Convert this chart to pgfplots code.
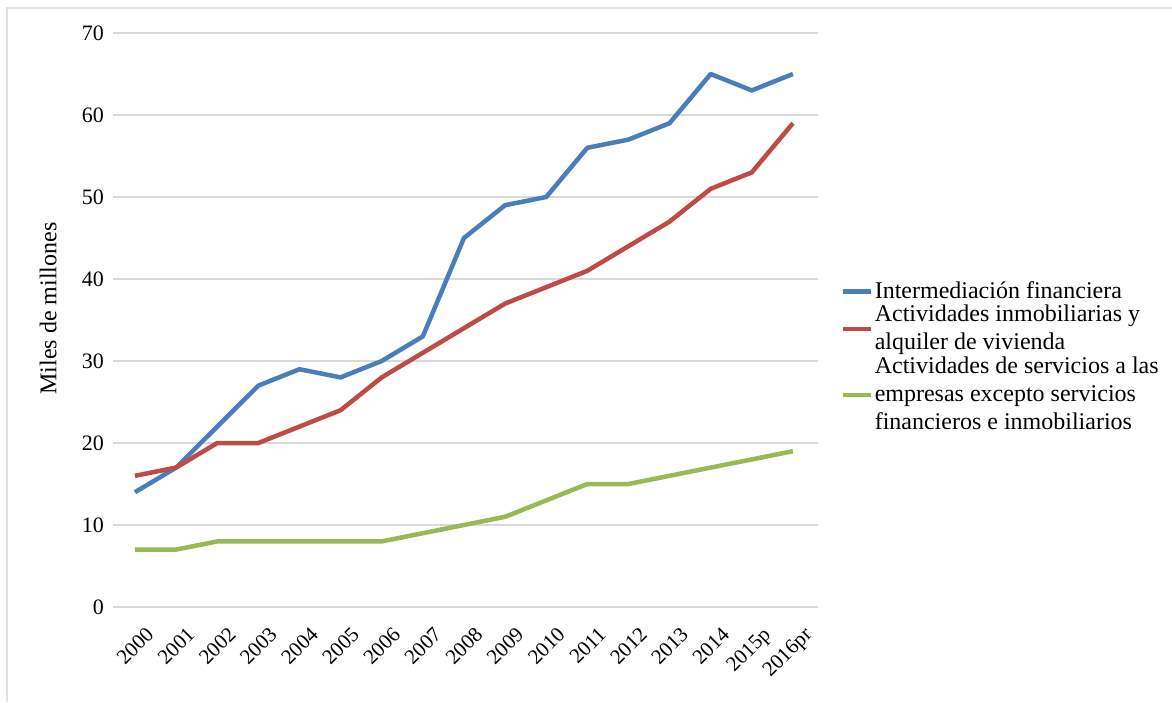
\documentclass[border=0pt]{standalone}
\usepackage{pgfplots}
\pgfplotsset{compat=1.18}
\usepackage{fontspec}
\setmainfont{Liberation Serif}
\definecolor{cblue}{HTML}{4A7EBB}
\definecolor{cred}{HTML}{BE4B48}
\definecolor{cgreen}{HTML}{98B954}
\definecolor{cgrid}{HTML}{D9D9D9}
\begin{document}
\begin{tikzpicture}
\path[use as bounding box] (0,0) rectangle (586pt,351pt);
\draw[black!12, line width=1pt] (3.5pt,0) -- (3.5pt,347pt) -- (586pt,347pt);
\begin{axis}[
  scale only axis,
  width=352.5pt, height=287pt,
  at={(56.5pt,47.5pt)}, anchor=south west,
  xmin=-0.535, xmax=16.61,
  ymin=0, ymax=70,
  ytick={0,10,...,70},
  xtick={0,...,16},
  xticklabels={2000,2001,2002,2003,2004,2005,2006,2007,2008,2009,2010,2011,2012,2013,2014,2015p,2016pr},
  axis line style={draw=none},
  major tick length=0pt,
  ymajorgrids,
  grid style={cgrid, line width=0.75pt},
  /pgf/number format/assume math mode=true,
  yticklabel style={font=\fontsize{11}{13}\selectfont, xshift=-1pt},
  xticklabel style={font=\fontsize{10.5}{12}\selectfont, rotate=45, anchor=north east, inner sep=1pt, yshift=-9pt, xshift=-2pt},
  ylabel={Miles de millones},
  ylabel style={font=\fontsize{12}{14}\selectfont, at={(axis description cs:-0.092,0.52)}, anchor=center, rotate=0},
  legend style={draw=none, fill=none, at={(1.031,0.4355)}, anchor=west, inner sep=0pt,
    font=\fontsize{12}{14}\selectfont, nodes={align=left, inner sep=1pt}, row sep=0pt},
  legend cell align=left,
  legend image code/.code={\draw[#1, line width=2.25pt] (0pt,0pt) -- (14pt,0pt);},
  line join=round,
]
\addplot[cblue, line width=2.25pt] coordinates {(0,14)(1,17)(2,22)(3,27)(4,29)(5,28)(6,30)(7,33)(8,45)(9,49)(10,50)(11,56)(12,57)(13,59)(14,65)(15,63)(16,65)};
\addlegendentry{Intermediación financiera}
\addplot[cred, line width=2.25pt] coordinates {(0,16)(1,17)(2,20)(3,20)(4,22)(5,24)(6,28)(7,31)(8,34)(9,37)(10,39)(11,41)(12,44)(13,47)(14,51)(15,53)(16,59)};
\addlegendentry{Actividades inmobiliarias y\\alquiler de vivienda}
\addplot[cgreen, line width=2.25pt] coordinates {(0,7)(1,7)(2,8)(3,8)(4,8)(5,8)(6,8)(7,9)(8,10)(9,11)(10,13)(11,15)(12,15)(13,16)(14,17)(15,18)(16,19)};
\addlegendentry{Actividades de servicios a las\\empresas excepto servicios\\financieros e inmobiliarios}
\end{axis}
\end{tikzpicture}
\end{document}
